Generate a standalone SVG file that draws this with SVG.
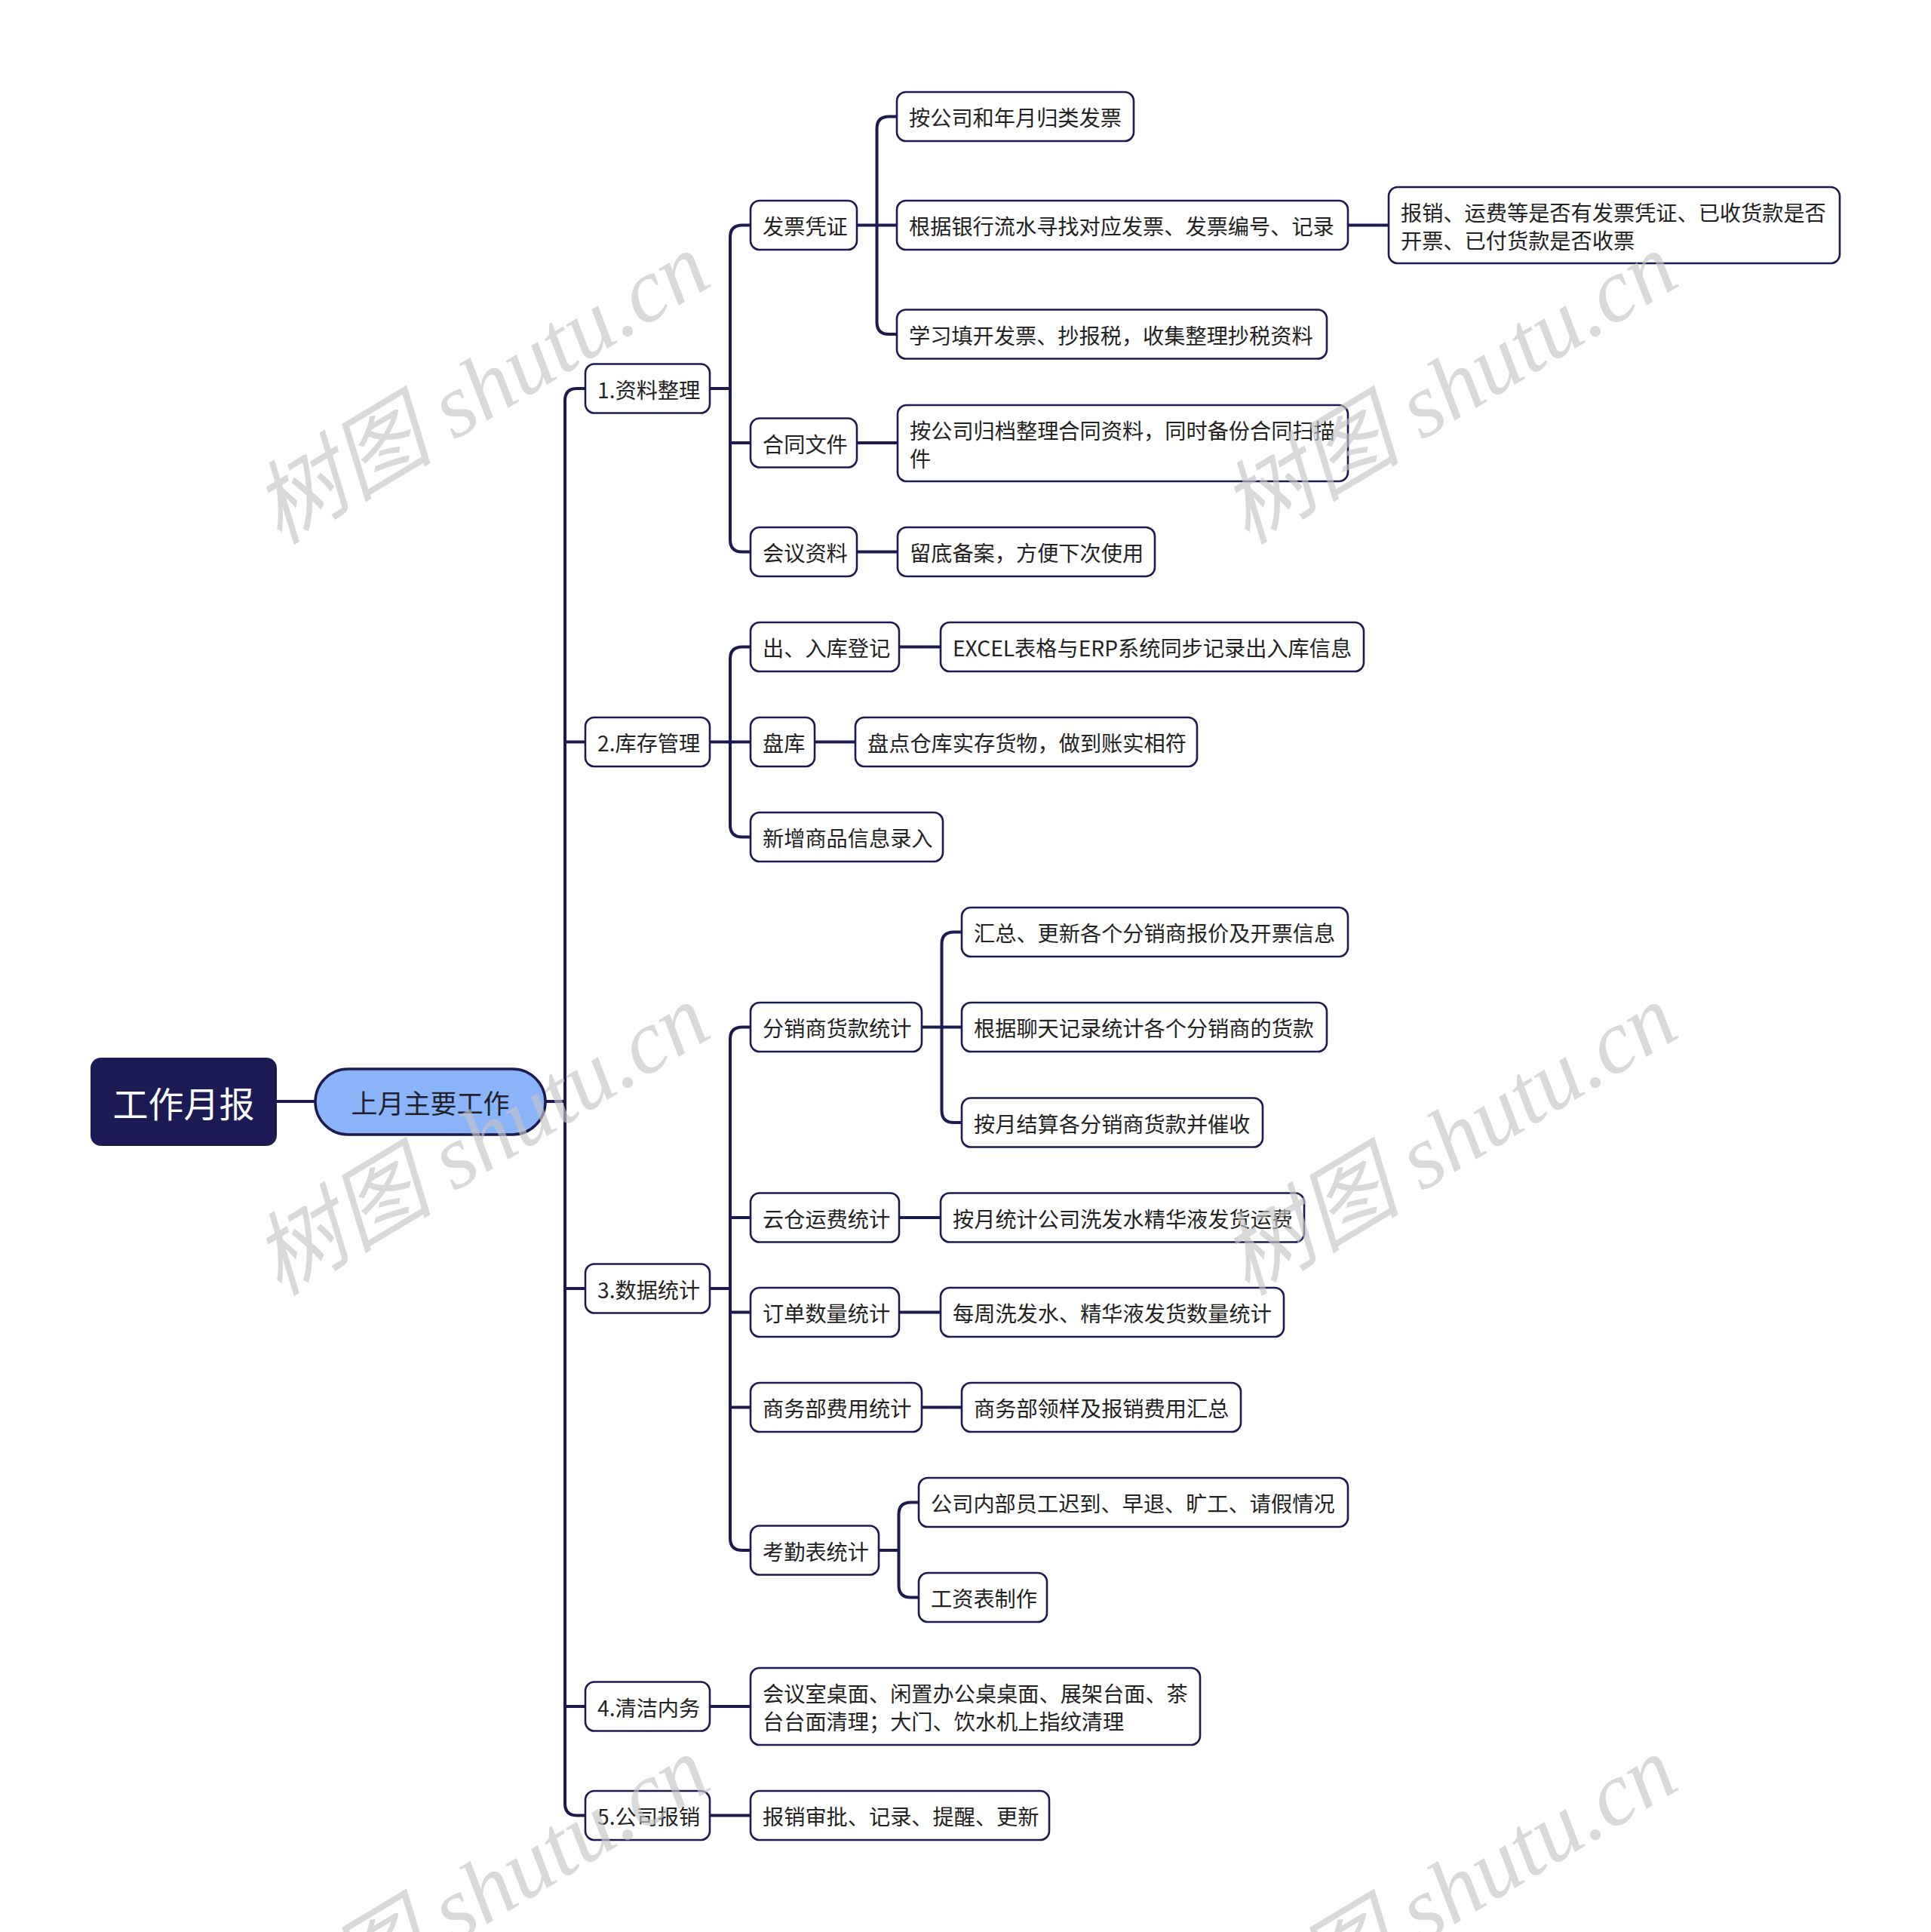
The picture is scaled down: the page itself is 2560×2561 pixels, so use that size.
<svg xmlns="http://www.w3.org/2000/svg" width="2560" height="2561" viewBox="0 0 2560 2561">
<style>
.n rect{fill:#ffffff;stroke:#1c1b4f;stroke-width:2.6}
.n text{font-family:"Noto Sans CJK SC","Noto Sans",sans-serif;font-size:28.2px;fill:#222222;dominant-baseline:central}
.c path{fill:none;stroke:#1c1b4f;stroke-width:4;stroke-linecap:butt}
.wm{font-family:"Liberation Serif","Noto Sans CJK SC",serif;font-style:italic;font-size:120px;fill:#c4c4c4;fill-opacity:0.65;text-anchor:middle;dominant-baseline:central}
</style>
<rect x="0" y="0" width="2560" height="2561" fill="#ffffff"/>
<g id="connectors" class="c">
<path d="M367,1460 H418"/>
<path d="M723,1460 H749"/>
<path d="M776,515 H765 Q749,515 749,531 V2390.5 Q749,2406.5 765,2406.5 H776"/>
<path d="M749,983.5 H776"/>
<path d="M749,1708 H776"/>
<path d="M749,2262 H776"/>
<path d="M941,515 H968"/>
<path d="M995,298.5 H984 Q968,298.5 968,314.5 V715.5 Q968,731.5 984,731.5 H995"/>
<path d="M968,587 H995"/>
<path d="M1136,298.5 H1189"/>
<path d="M1189,154.5 H1178.5 Q1162.5,154.5 1162.5,170.5 V427 Q1162.5,443 1178.5,443 H1189"/>
<path d="M1787,298.5 H1841"/>
<path d="M1136,587 H1190"/>
<path d="M1136,731.5 H1190"/>
<path d="M941,983.5 H995"/>
<path d="M995,857.5 H984 Q968,857.5 968,873.5 V1093.5 Q968,1109.5 984,1109.5 H995"/>
<path d="M1192,857.5 H1247"/>
<path d="M1080,983.5 H1134"/>
<path d="M941,1708 H968"/>
<path d="M995,1361.5 H984 Q968,1361.5 968,1377.5 V2039 Q968,2055 984,2055 H995"/>
<path d="M968,1614 H995"/>
<path d="M968,1739.5 H995"/>
<path d="M968,1865.5 H995"/>
<path d="M1222,1361.5 H1275"/>
<path d="M1275,1235.5 H1264.5 Q1248.5,1235.5 1248.5,1251.5 V1472 Q1248.5,1488 1264.5,1488 H1275"/>
<path d="M1192,1614 H1247"/>
<path d="M1192,1739.5 H1247"/>
<path d="M1222,1865.5 H1275"/>
<path d="M1165,2055 H1191.5"/>
<path d="M1218,1991.5 H1207.5 Q1191.5,1991.5 1191.5,2007.5 V2101.5 Q1191.5,2117.5 1207.5,2117.5 H1218"/>
<path d="M941,2262 H995"/>
<path d="M941,2406.5 H995"/>
</g>
<g id="root">
<rect x="120" y="1402" width="247" height="117" rx="14" fill="#1c1b56"/>
<text x="243.5" y="1460.5" font-family="Noto Sans CJK SC, sans-serif" font-size="47" fill="#ffffff" text-anchor="middle" dominant-baseline="central">工作月报</text>
</g>
<g id="main">
<rect x="418" y="1417" width="305" height="87" rx="43.5" fill="#8ab4f8" stroke="#1c1b4f" stroke-width="3.5"/>
<text x="570.5" y="1460.5" font-family="Noto Sans CJK SC, sans-serif" font-size="35" fill="#1f1f2e" text-anchor="middle" dominant-baseline="central">上月主要工作</text>
</g>
<g id="n1" class="n"><rect x="776" y="482.5" width="165" height="65" rx="12"/><text x="792" y="515">1.资料整理</text></g>
<g id="n2" class="n"><rect x="776" y="951" width="165" height="65" rx="12"/><text x="792" y="983.5">2.库存管理</text></g>
<g id="n3" class="n"><rect x="776" y="1675.5" width="165" height="65" rx="12"/><text x="792" y="1708">3.数据统计</text></g>
<g id="n4" class="n"><rect x="776" y="2229.5" width="165" height="65" rx="12"/><text x="792" y="2262">4.清洁内务</text></g>
<g id="n5" class="n"><rect x="776" y="2374" width="165" height="65" rx="12"/><text x="792" y="2406.5">5.公司报销</text></g>
<g id="n1a" class="n"><rect x="995" y="266" width="141" height="65" rx="12"/><text x="1011" y="298.5">发票凭证</text></g>
<g id="n1b" class="n"><rect x="995" y="554.5" width="141" height="65" rx="12"/><text x="1011" y="587">合同文件</text></g>
<g id="n1c" class="n"><rect x="995" y="699" width="141" height="65" rx="12"/><text x="1011" y="731.5">会议资料</text></g>
<g id="n1a1" class="n"><rect x="1189" y="122" width="314" height="65" rx="12"/><text x="1205" y="154.5">按公司和年月归类发票</text></g>
<g id="n1a2" class="n"><rect x="1189" y="266" width="598" height="65" rx="12"/><text x="1205" y="298.5">根据银行流水寻找对应发票、发票编号、记录</text></g>
<g id="n1a3" class="n"><rect x="1189" y="410.5" width="570" height="65" rx="12"/><text x="1205" y="443">学习填开发票、抄报税，收集整理抄税资料</text></g>
<g id="n1a2a" class="n"><rect x="1841" y="248" width="598" height="101" rx="12"/><text x="1857" y="280.5">报销、运费等是否有发票凭证、已收货款是否</text><text x="1857" y="317.5">开票、已付货款是否收票</text></g>
<g id="n1b1" class="n"><rect x="1190" y="537" width="597" height="101" rx="12"/><text x="1206" y="569">按公司归档整理合同资料，同时备份合同扫描</text><text x="1206" y="606">件</text></g>
<g id="n1c1" class="n"><rect x="1190" y="699" width="341" height="65" rx="12"/><text x="1206" y="731.5">留底备案，方便下次使用</text></g>
<g id="n2a" class="n"><rect x="995" y="825" width="197" height="65" rx="12"/><text x="1011" y="857.5">出、入库登记</text></g>
<g id="n2b" class="n"><rect x="995" y="951" width="85" height="65" rx="12"/><text x="1011" y="983.5">盘库</text></g>
<g id="n2c" class="n"><rect x="995" y="1077" width="255" height="65" rx="12"/><text x="1011" y="1109.5">新增商品信息录入</text></g>
<g id="n2a1" class="n"><rect x="1247" y="825" width="561" height="65" rx="12"/><text x="1263" y="857.5">EXCEL表格与ERP系统同步记录出入库信息</text></g>
<g id="n2b1" class="n"><rect x="1134" y="951" width="453" height="65" rx="12"/><text x="1150" y="983.5">盘点仓库实存货物，做到账实相符</text></g>
<g id="n3a" class="n"><rect x="995" y="1329" width="227" height="65" rx="12"/><text x="1011" y="1361.5">分销商货款统计</text></g>
<g id="n3a1" class="n"><rect x="1275" y="1203" width="512" height="65" rx="12"/><text x="1291" y="1235.5">汇总、更新各个分销商报价及开票信息</text></g>
<g id="n3a2" class="n"><rect x="1275" y="1329" width="484" height="65" rx="12"/><text x="1291" y="1361.5">根据聊天记录统计各个分销商的货款</text></g>
<g id="n3a3" class="n"><rect x="1275" y="1455.5" width="399" height="65" rx="12"/><text x="1291" y="1488">按月结算各分销商货款并催收</text></g>
<g id="n3b" class="n"><rect x="995" y="1581.5" width="197" height="65" rx="12"/><text x="1011" y="1614">云仓运费统计</text></g>
<g id="n3b1" class="n"><rect x="1247" y="1581.5" width="482" height="65" rx="12"/><text x="1263" y="1614">按月统计公司洗发水精华液发货运费</text></g>
<g id="n3c" class="n"><rect x="995" y="1707" width="197" height="65" rx="12"/><text x="1011" y="1739.5">订单数量统计</text></g>
<g id="n3c1" class="n"><rect x="1247" y="1707" width="455" height="65" rx="12"/><text x="1263" y="1739.5">每周洗发水、精华液发货数量统计</text></g>
<g id="n3d" class="n"><rect x="995" y="1833" width="227" height="65" rx="12"/><text x="1011" y="1865.5">商务部费用统计</text></g>
<g id="n3d1" class="n"><rect x="1275" y="1833" width="370" height="65" rx="12"/><text x="1291" y="1865.5">商务部领样及报销费用汇总</text></g>
<g id="n3e" class="n"><rect x="995" y="2022.5" width="170" height="65" rx="12"/><text x="1011" y="2055">考勤表统计</text></g>
<g id="n3e1" class="n"><rect x="1218" y="1959" width="569" height="65" rx="12"/><text x="1234" y="1991.5">公司内部员工迟到、早退、旷工、请假情况</text></g>
<g id="n3e2" class="n"><rect x="1218" y="2085" width="170" height="65" rx="12"/><text x="1234" y="2117.5">工资表制作</text></g>
<g id="n4a" class="n"><rect x="995" y="2211" width="596" height="102" rx="12"/><text x="1011" y="2243.5">会议室桌面、闲置办公桌桌面、展架台面、茶</text><text x="1011" y="2280.5">台台面清理；大门、饮水机上指纹清理</text></g>
<g id="n5a" class="n"><rect x="995" y="2374" width="396" height="65" rx="12"/><text x="1011" y="2406.5">报销审批、记录、提醒、更新</text></g>
<g id="watermarks">
<text class="wm" transform="translate(638,515) rotate(-31)">树图 shutu.cn</text>
<text class="wm" transform="translate(1921,515) rotate(-31)">树图 shutu.cn</text>
<text class="wm" transform="translate(638,1511) rotate(-31)">树图 shutu.cn</text>
<text class="wm" transform="translate(1921,1511) rotate(-31)">树图 shutu.cn</text>
<text class="wm" transform="translate(638,2508) rotate(-31)">树图 shutu.cn</text>
<text class="wm" transform="translate(1921,2508) rotate(-31)">树图 shutu.cn</text>
</g>
</svg>
